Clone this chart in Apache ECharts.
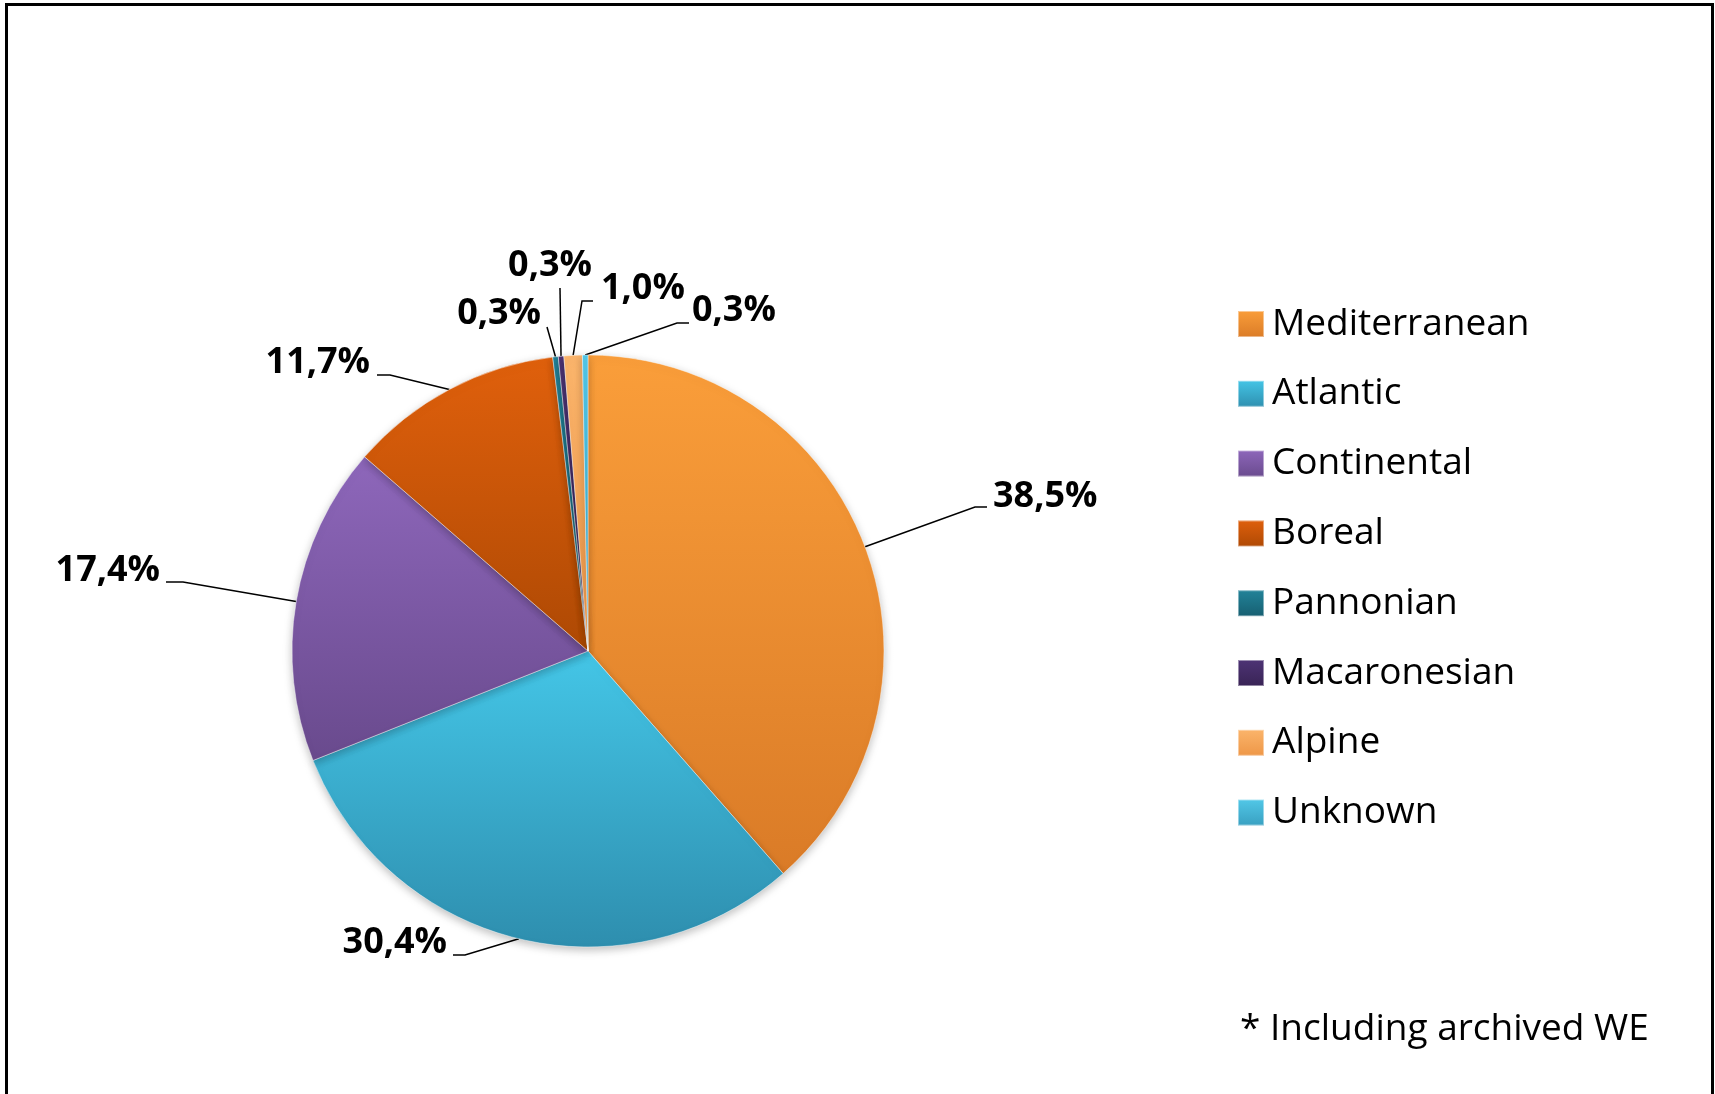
<!DOCTYPE html>
<html>
<head>
<meta charset="utf-8">
<script src="https://cdn.jsdelivr.net/npm/echarts@6/dist/echarts.min.js"></script>
<style>
html,body{margin:0;padding:0;background:#fff;}
#chart{width:1715px;height:1094px;}
</style>
</head>
<body>
<div id="chart"></div>
<script>
// ---- data ----
const categories = ['Mediterranean','Atlantic','Continental','Boreal','Pannonian','Macaronesian','Alpine','Unknown'];
const shares = [38.5, 30.4, 17.4, 11.7, 0.3, 0.3, 1.0, 0.3];
const footnote = '* Including archived WE';

// ---- style / layout ----
const colorsTop =    ['#FA9E3A','#44C6E7','#8E67BB','#E0600C','#23849A','#4E3476','#FBB56C','#52C8E8'];
const colorsBottom = ['#DA7B27','#2E8EAE','#694A8D','#AE4904','#165E70','#382354','#EE9646','#389FC0'];
const CX = 588, CY = 651, R = 296;
const FONT = '"Open Sans", Lato, sans-serif';
// label text anchor, alignment and leader attach points (layout only)
const labelLayouts = [
  {x: 993, y: 497, align: 'left',   attach: [987, 507], bend: [975, 507]},
  {x: 447, y: 943, align: 'right',  attach: [453, 955], bend: [465, 955]},
  {x: 160, y: 571, align: 'right',  attach: [166, 582], bend: [183, 582]},
  {x: 370, y: 363, align: 'right',  attach: [377, 375], bend: [390, 375]},
  {x: 541, y: 314, align: 'right',  attach: [547, 327], bend: [547, 327]},
  {x: 550, y: 266, align: 'center', attach: [560, 288], bend: [560, 288]},
  {x: 601, y: 289, align: 'left',   attach: [593, 301], bend: [582, 301]},
  {x: 692, y: 311, align: 'left',   attach: [689, 323], bend: [677, 323]}
];

const total = shares.reduce((a, b) => a + b, 0);
function midPoint(i) {
  let cum = 0;
  for (let k = 0; k < i; k++) cum += shares[k];
  const f = (cum + shares[i] / 2) / total;
  const a = f * Math.PI * 2;
  return [CX + R * Math.sin(a), CY - R * Math.cos(a)];
}

const pieData = categories.map((name, i) => ({
  name: name,
  value: shares[i],
  itemStyle: {
    color: {
      type: 'linear', x: 0, y: 0, x2: 0, y2: 1,
      colorStops: [{offset: 0, color: colorsTop[i]}, {offset: 1, color: colorsBottom[i]}]
    }
  }
}));

const chart = echarts.init(document.getElementById('chart'), null, {renderer: 'canvas'});
chart.setOption({
  backgroundColor: '#ffffff',
  animation: false,
  legend: {
    orient: 'vertical',
    left: 1232,
    top: 299,
    padding: 5,
    itemWidth: 26,
    itemHeight: 26,
    itemGap: 29.8,
    icon: 'rect',
    data: categories,
    textStyle: {
      fontFamily: FONT,
      fontSize: 37,
      color: '#000',
      lineHeight: 40,
      padding: [0, 0, 0, 3]
    }
  },
  graphic: [
    {
      type: 'rect',
      shape: {x: 6.5, y: 4.5, width: 1706, height: 1200},
      style: {fill: 'none', stroke: '#000', lineWidth: 3},
      z: 100
    },
    {
      type: 'text',
      left: 1240,
      top: 1011,
      style: {text: footnote, font: '37px ' + FONT, fill: '#000'}
    }
  ],
  series: [{
    type: 'pie',
    center: [CX, CY],
    radius: R,
    startAngle: 90,
    clockwise: true,
    avoidLabelOverlap: false,
    data: pieData,
    itemStyle: {
      borderColor: 'rgba(255,255,255,0.45)',
      borderWidth: 1,
      shadowBlur: 8,
      shadowColor: 'rgba(0,0,0,0.25)',
      shadowOffsetY: 3
    },
    emphasis: {disabled: true},
    label: {
      show: true,
      position: 'outside',
      fontFamily: FONT,
      fontWeight: 'bold',
      fontSize: 36,
      color: '#000',
      formatter: p => p.value.toFixed(1).replace('.', ',') + '%'
    },
    labelLine: {
      show: true,
      lineStyle: {color: '#000', width: 1.5}
    },
    labelLayout: function (params) {
      const L = labelLayouts[params.dataIndex];
      return {
        x: L.x,
        y: L.y,
        align: L.align,
        verticalAlign: 'middle',
        labelLinePoints: [midPoint(params.dataIndex), L.bend, L.attach]
      };
    }
  }]
});
</script>
</body>
</html>
